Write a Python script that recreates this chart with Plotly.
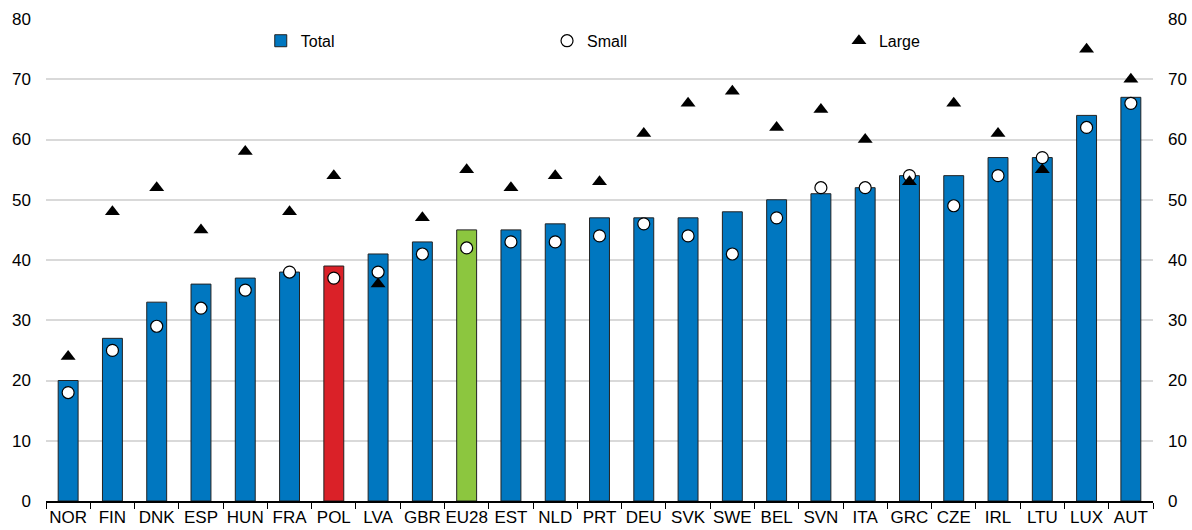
import plotly.graph_objects as go

categories = ["NOR","FIN","DNK","ESP","HUN","FRA","POL","LVA","GBR","EU28","EST","NLD","PRT",
              "DEU","SVK","SWE","BEL","SVN","ITA","GRC","CZE","IRL","LTU","LUX","AUT"]
total = [20,27,33,36,37,38,39,41,43,45,45,46,47,47,47,48,50,51,52,54,54,57,57,64,67]
small = [18,25,29,32,35,38,37,38,41,42,43,43,44,46,44,41,47,52,52,54,49,54,57,62,66]
large = [24,48,52,45,58,48,54,36,47,55,52,54,53,61,66,68,62,65,60,53,66,61,55,75,70]

BLUE = "#0077C0"
RED = "#DA2128"
GREEN = "#8CC63F"
bar_colors = [RED if c == "POL" else GREEN if c == "EU28" else BLUE for c in categories]

FONT = "Liberation Sans Narrow, Arial Narrow, Liberation Sans, Arial, sans-serif"

fig = go.Figure()
fig.add_trace(go.Bar(x=categories, y=total, name="Total", legend="legend",
                     marker=dict(color=bar_colors, line=dict(color="#222222", width=1))))
fig.add_trace(go.Scatter(x=categories, y=small, name="Small", mode="markers", legend="legend2",
                         marker=dict(symbol="circle", size=12, color="white",
                                     line=dict(color="black", width=1.2))))
fig.add_trace(go.Scatter(x=categories, y=large, name="Large", mode="markers", legend="legend3",
                         marker=dict(symbol="triangle-up", size=13, color="black")))
# invisible trace for right axis
fig.add_trace(go.Scatter(x=categories, y=total, yaxis="y2", mode="markers",
                         marker=dict(opacity=0), showlegend=False, hoverinfo="skip"))

leg_common = dict(orientation="h", y=0.99, xanchor="left", yanchor="top",
                  bgcolor="rgba(0,0,0,0)", font=dict(size=16))

fig.update_layout(
    width=1192, height=530,
    margin=dict(l=46, r=39, t=19, b=29),
    plot_bgcolor="white", paper_bgcolor="white",
    font=dict(family=FONT, size=16, color="black"),
    bargap=0.55,
    showlegend=True,
    legend=dict(x=0.194, **leg_common),
    legend2=dict(x=0.4526, **leg_common),
    legend3=dict(x=0.7163, **leg_common),
    xaxis=dict(type="category", showgrid=False, showline=True, linecolor="black", linewidth=1.5,
               ticks="outside", tickson="boundaries", ticklen=6, tickcolor="black",
               tickangle=0, tickfont=dict(size=17), range=[-0.5, 24.5], automargin=False),
    yaxis=dict(range=[0, 80], dtick=10, showgrid=True, gridcolor="#D9D9D9", gridwidth=1.5,
               zeroline=False, ticks="", tickfont=dict(size=17), automargin=False,
               ticklabelstandoff=14),
    yaxis2=dict(range=[0, 80], dtick=10, overlaying="y", side="right", showgrid=False,
                zeroline=False, ticks="", tickfont=dict(size=17), automargin=False,
                ticklabelstandoff=14),
)

fig.write_html("out.html", config={"displayModeBar": False},
               post_script="document.body.style.margin='0';")
